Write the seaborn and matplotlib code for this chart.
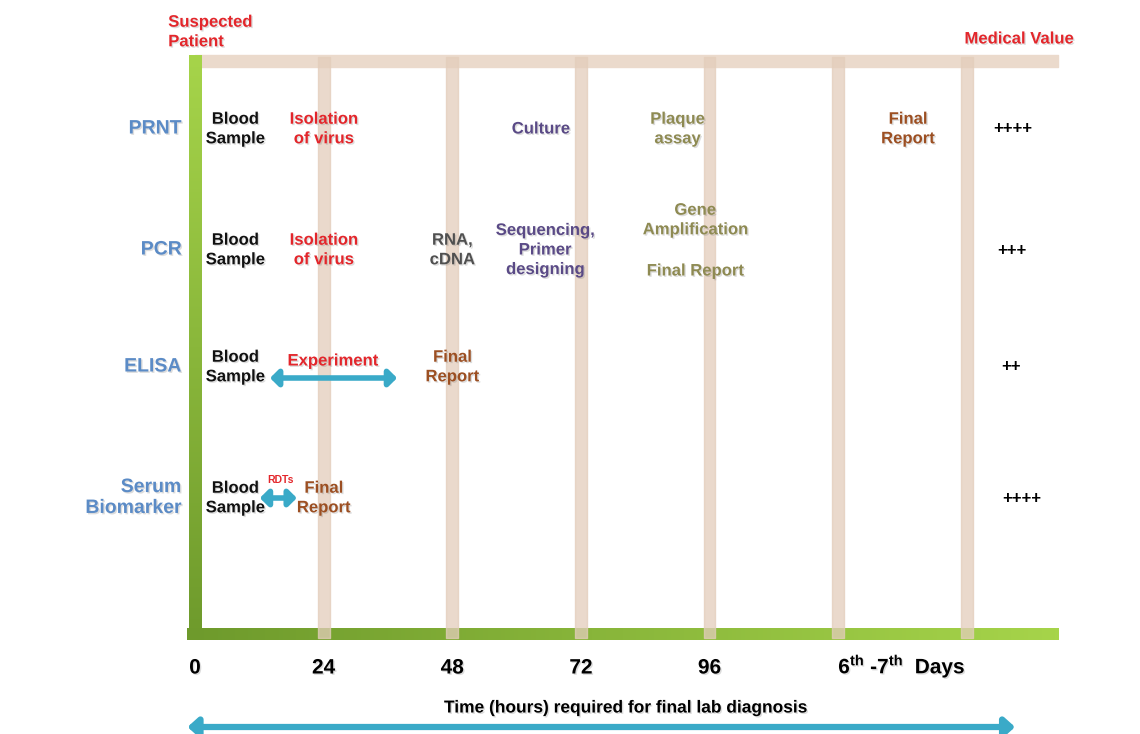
import numpy as np
import matplotlib.pyplot as plt
import matplotlib.patheffects as pe
from matplotlib.colors import LinearSegmentedColormap
import seaborn as sns

# timeline (hours) and labels under the axis
tick_hours = [0, 24, 48, 72, 96]
tick_labels = ['0', '24', '48', '72', '96']
grid_hours = [24, 48, 72, 96, 120, 144]
days_label = r'6$^{\mathbf{th}}$ -7$^{\mathbf{th}}$  Days'

# tests (rows) and their medical value
tests = ['PRNT', 'PCR', 'ELISA', 'Serum\nBiomarker']
medical_value = ['++++', '+++', '++', '++++']
value_hours = [152.6, 152.4, 152.2, 154.3]

# steps: (row, hour, text, colour key, vertical shift)
steps = [
    (0, 7.5, 'Blood\nSample', 'black', 0),
    (0, 24, 'Isolation\nof virus', 'red', 0),
    (0, 64.5, 'Culture', 'purple', 0),
    (0, 90, 'Plaque\nassay', 'olive', 0),
    (0, 133, 'Final\nReport', 'brown', 0),
    (1, 7.5, 'Blood\nSample', 'black', 0),
    (1, 24, 'Isolation\nof virus', 'red', 0),
    (1, 48, 'RNA,\ncDNA', 'grey', 0),
    (1, 65.3, 'Sequencing,\nPrimer\ndesigning', 'purple', 0),
    (1, 93.3, 'Gene\nAmplification', 'olive', -30),
    (1, 93.3, 'Final Report', 'olive', 21),
    (2, 7.5, 'Blood\nSample', 'black', 0),
    (2, 25.7, 'Experiment', 'red', -6),
    (2, 48, 'Final\nReport', 'brown', 0),
    (3, 7.5, 'Blood\nSample', 'black', 0),
    (3, 24, 'Final\nReport', 'brown', 0),
]
# double arrows: (row, start hour, end hour)
arrows = [(2, 14.0, 37.7), (3, 12.1, 19.0)]

palette = {'black': '#111111', 'red': '#E3262B', 'purple': '#5A4A86',
           'olive': '#8E8A52', 'brown': '#9C4F22', 'grey': '#505050',
           'blue': '#5B8BC6'}

sns.set_theme(style='white')
plt.rcParams['font.family'] = ['Liberation Sans', 'DejaVu Sans']
plt.rcParams['mathtext.fontset'] = 'custom'
plt.rcParams['mathtext.bf'] = 'Liberation Sans:bold'

fig = plt.figure(figsize=(11.4, 7.34), dpi=100)
ax = fig.add_axes([0, 0, 1, 1])
px = 5.36  # pixels per hour
ax.set_xlim(-195 / px, (1140 - 195) / px)
ax.set_ylim(734, 0)
ax.axis('off')

shadow = [pe.withSimplePatchShadow(offset=(1, -1), alpha=0.25, shadow_rgbFace='#777777')]
row_y = [129, 250, 367, 498]
ls = 1.38

# beige frame: top bar and vertical day lines
ax.fill_between([0, 161], 55, 67, color='#EBDACC', zorder=1)

# green axes with gradient
green = LinearSegmentedColormap.from_list('g', ['#6E9A2C', '#A6D44A'])
ax.imshow(np.linspace(0, 1, 200)[None, :], extent=[-1.4, 161.2, 640, 628],
          cmap=green, aspect='auto', zorder=3)
ax.imshow(np.linspace(0, 1, 200)[::-1, None], extent=[-1.1, 1.2, 640, 55],
          cmap=green, aspect='auto', zorder=4)

for h in grid_hours:
    ax.fill_between([h - 1.1, h + 1.1], 57, 638, color='#E3CDBB', alpha=0.75, zorder=5)

# tick labels
for h, lab in zip(tick_hours, tick_labels):
    ax.text(h, 668, lab, ha='center', va='center', fontsize=15, fontweight='bold',
            color='black', path_effects=shadow)
ax.text(120, 666, days_label, ha='left', va='center', fontsize=15, fontweight='bold',
        color='black', path_effects=shadow)
ax.text(80.5, 708, 'Time (hours) required for final lab diagnosis', ha='center',
        va='center', fontsize=12.5, fontweight='bold', color='black', path_effects=shadow)
ax.annotate('', xy=(153, 727), xytext=(-1.4, 727),
            arrowprops=dict(arrowstyle='<|-|>,head_length=0.5,head_width=0.45',
                            lw=4.5, color='#3AAAC8', shrinkA=0, shrinkB=0))

# headers
ax.text(-5, 32, 'Suspected\nPatient', ha='left', va='center', fontsize=12,
        fontweight='bold', color=palette['red'], linespacing=ls, path_effects=shadow)
ax.text(153.7, 39, 'Medical Value', ha='center', va='center', fontsize=12,
        fontweight='bold', color=palette['red'], path_effects=shadow)

# row labels and values
for y, name, val, vh in zip(row_y, tests, medical_value, value_hours):
    ax.text(-2.5, y, name, ha='right', va='center', fontsize=14, fontweight='bold',
            color=palette['blue'], linespacing=1.3, path_effects=shadow)
    ax.text(vh, y, val, ha='center', va='center', fontsize=12, fontweight='bold',
            color='black')

# steps
for r, h, txt, c, dy in steps:
    ax.text(h, row_y[r] + dy, txt, ha='center', va='center', fontsize=12,
            fontweight='bold', color=palette[c], linespacing=ls,
            path_effects=shadow, zorder=6)

for r, h0, h1 in arrows:
    y = row_y[r] + (11 if r == 2 else 0)
    ax.annotate('', xy=(h1, y), xytext=(h0, y),
                arrowprops=dict(arrowstyle='<|-|>,head_length=0.4,head_width=0.4',
                                lw=4, color='#3AAAC8', shrinkA=0, shrinkB=0), zorder=6)
ax.text(15.9, 480, 'RDTs', ha='center', va='center', fontsize=7.5, fontweight='bold',
        color=palette['red'])

fig.savefig('out.png', dpi=100)
